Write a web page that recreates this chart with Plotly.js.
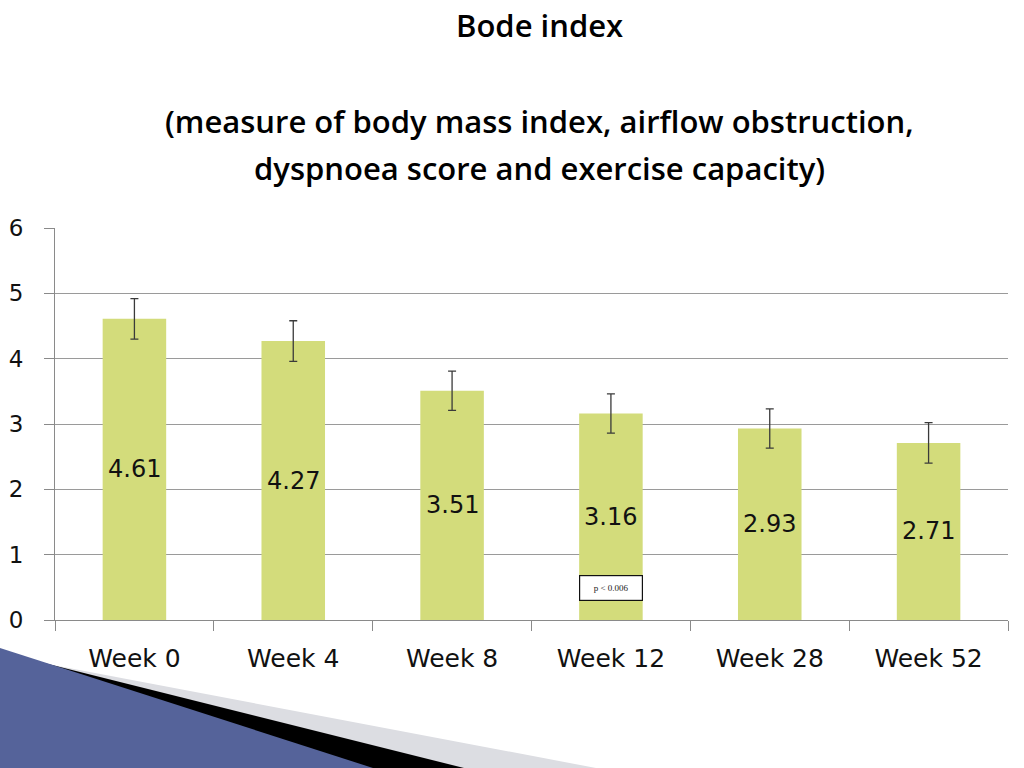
<!DOCTYPE html>
<html>
<head>
<meta charset="utf-8">
<script src="https://cdn.plot.ly/plotly-3.0.1.min.js"></script>
<style>html,body{margin:0;padding:0;background:#fff;}#chart{width:1024px;height:768px;}</style>
</head>
<body>
<div id="chart"></div>
<script>
var categories = ["Week 0", "Week 4", "Week 8", "Week 12", "Week 28", "Week 52"];
var bodeValues = [4.61, 4.27, 3.51, 3.16, 2.93, 2.71];
var errorValues = [0.31, 0.31, 0.30, 0.30, 0.30, 0.31];
var valueLabels = ["4.61", "4.27", "3.51", "3.16", "2.93", "2.71"];
var yTicks = [0, 1, 2, 3, 4, 5, 6];
var titleLines = ["Bode index", "(measure of body mass index, airflow obstruction,", "dyspnoea score and exercise capacity)"];
var pNote = "p < 0.006";
var pNoteCategory = "Week 12";
var pNoteY = 0.49;

var W = 1024, H = 768;
var M = {l: 55, r: 16, t: 228, b: 148};
var pw = W - M.l - M.r, ph = H - M.t - M.b;
function px(x) { return (x - M.l) / pw; }
function py(y) { return (H - M.b - y) / ph; }
function path(pts) {
  return pts.map(function (p, i) { return (i ? "L" : "M") + px(p[0]) + "," + py(p[1]); }).join(" ") + " Z";
}

var trace = {
  type: "bar",
  x: categories,
  y: bodeValues,
  marker: {color: "#d3dc7b", line: {width: 0}},
  error_y: {type: "data", array: errorValues, visible: true, color: "#3a3a3a", thickness: 1.3, width: 4},
  hoverinfo: "skip"
};

var annotations = [];
var titleY = [25, 121, 168];
titleLines.forEach(function (t, i) {
  annotations.push({
    xref: "paper", yref: "paper", x: px(539), y: py(titleY[i]),
    xanchor: "center", yanchor: "middle", showarrow: false, text: t,
    font: {family: "Open Sans, sans-serif", size: 31, weight: 600, color: "#000"}
  });
});
categories.forEach(function (c, i) {
  annotations.push({
    x: c, y: bodeValues[i] / 2, xref: "x", yref: "y", showarrow: false,
    text: valueLabels[i], xanchor: "center", yanchor: "middle",
    font: {family: "DejaVu Sans, sans-serif", size: 24, color: "#111"}
  });
});
annotations.push({
  x: pNoteCategory, y: pNoteY, xref: "x", yref: "y", showarrow: false,
  text: pNote, width: 62, height: 24, borderpad: 0,
  bordercolor: "#111", borderwidth: 1.2, bgcolor: "#fff",
  font: {family: "Liberation Serif, serif", size: 9, color: "#222"}
});

var shapes = [
  {type: "path", xref: "paper", yref: "paper", layer: "above", line: {width: 0}, fillcolor: "#dcdde2",
   path: path([[0, 655], [596, 768], [0, 768]])},
  {type: "path", xref: "paper", yref: "paper", layer: "above", line: {width: 0}, fillcolor: "#000000",
   path: path([[0, 652], [464, 768], [0, 768]])},
  {type: "path", xref: "paper", yref: "paper", layer: "above", line: {width: 0}, fillcolor: "#55639a",
   path: path([[0, 648], [373, 768], [0, 768]])}
];

var layout = {
  width: W, height: H,
  margin: M,
  paper_bgcolor: "#fff", plot_bgcolor: "#fff",
  showlegend: false,
  bargap: 0.6,
  xaxis: {
    type: "category",
    tickson: "boundaries",
    ticks: "outside", ticklen: 10, tickcolor: "#8a8a8a", tickwidth: 1,
    showline: true, linecolor: "#8a8a8a", linewidth: 1,
    showgrid: false,
    ticklabelstandoff: 16,
    tickfont: {family: "DejaVu Sans, sans-serif", size: 25, color: "#111"},
    fixedrange: true
  },
  yaxis: {
    range: [0, 6], tickvals: yTicks, ticktext: yTicks.map(String),
    ticks: "outside", ticklen: 10, tickcolor: "#8a8a8a",
    showline: true, linecolor: "#8a8a8a", linewidth: 1,
    showgrid: true, gridcolor: "#9a9a9a", gridwidth: 1,
    zeroline: false,
    ticklabelstandoff: 16,
    tickfont: {family: "DejaVu Sans, sans-serif", size: 23, color: "#111"},
    fixedrange: true
  },
  annotations: annotations,
  shapes: shapes
};

Plotly.newPlot("chart", [trace], layout, {displayModeBar: false, staticPlot: true});
</script>
</body>
</html>
